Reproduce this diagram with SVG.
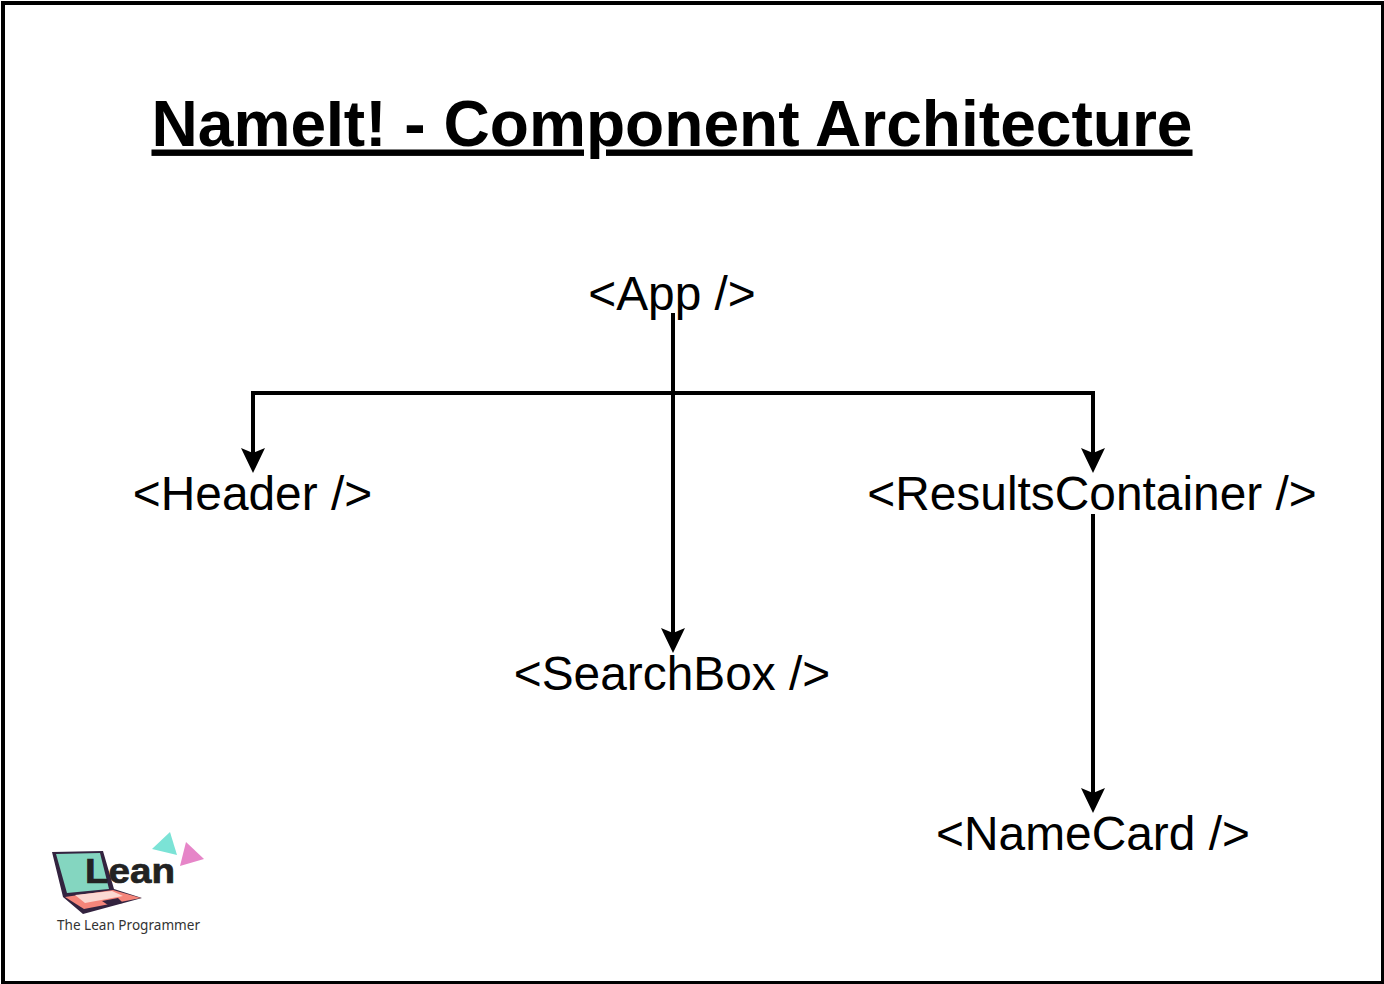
<svg xmlns="http://www.w3.org/2000/svg" width="1384" height="984" viewBox="0 0 1384 984">
<style>
text{font-family:"Liberation Sans",Arial,sans-serif;fill:#000}
.n{font-size:47.85px;text-anchor:middle}
.c{fill:none;stroke:#000;stroke-width:4}
.h{fill:#000}
.d{fill:#33233f}
</style>
<defs>
<path id="ah" class="h" d="M0 0L-12-25L0-20L12-25Z"/>
</defs>
<rect x="3" y="3" width="1380" height="980" fill="#fff" stroke="#000" stroke-width="4"/>
<g id="title"><text x="672" y="145.500" font-size="64.100" font-weight="bold" text-anchor="middle" text-decoration="underline">NameIt! - Component Architecture</text></g>
<g id="app"><text class="n" x="672" y="310">&lt;App /&gt;</text></g>
<g id="header"><text class="n" x="252.500" y="510">&lt;Header /&gt;</text></g>
<g id="searchbox"><text class="n" x="672" y="690">&lt;SearchBox /&gt;</text></g>
<g id="results"><text class="n" x="1092" y="510">&lt;ResultsContainer /&gt;</text></g>
<g id="namecard"><text class="n" x="1093" y="850">&lt;NameCard /&gt;</text></g>
<g id="connectors">
<path class="c" d="M673 313V640"/>
<path class="c" d="M673 393H253V460"/>
<path class="c" d="M673 393H1093V460"/>
<path class="c" d="M1093 514V800"/>
<use href="#ah" x="253" y="473"/>
<use href="#ah" x="1093" y="473"/>
<use href="#ah" x="673" y="653"/>
<use href="#ah" x="1093" y="813"/>
</g>
<g id="logo">
<path d="M170 832L152 849L177 855Z" fill="#7be3d6"/>
<path d="M186 842L204 859L180 866Z" fill="#e685c8"/>
<path class="d" d="M52 852L103 851L114 889L142 898L83 914L63 897Z"/>
<path d="M56 854L100 853L109 889L67 893Z" fill="#84d6c0"/>
<path d="M65 897L113 890L141 898L84 909Z" fill="#f5857a"/>
<path d="M75 895L112 891L123 896L85 903Z" fill="#fbd8d2"/>
<path class="d" d="M102 901L118 898L123 903L108 905Z"/>
<text x="85" y="883" font-size="35" font-weight="bold" style="fill:#222;stroke:#222;stroke-width:.7" textLength="90" lengthAdjust="spacingAndGlyphs">Lean</text>
<text x="57" y="930" font-size="14.500" style="fill:#333;font-family:'Noto Sans','Liberation Sans',sans-serif" textLength="143" lengthAdjust="spacingAndGlyphs">The Lean Programmer</text>
</g>
</svg>
